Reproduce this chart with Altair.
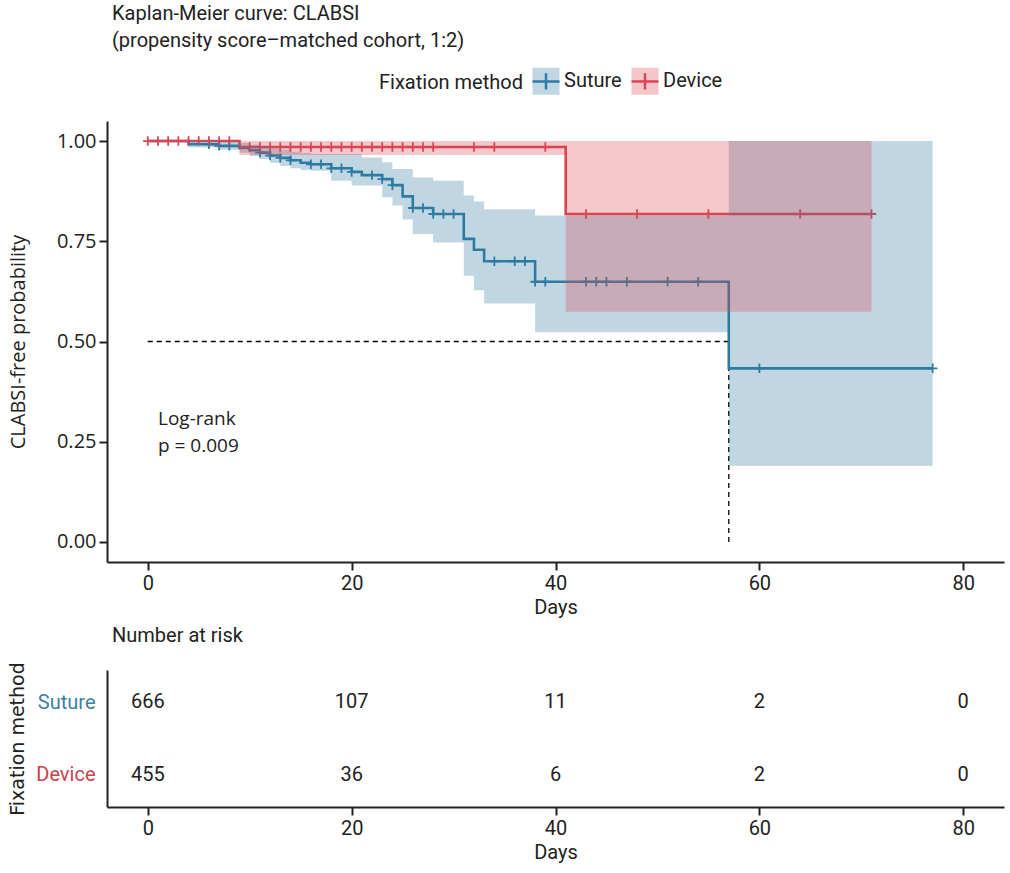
import altair as alt
import pandas as pd

# ---------------- data ----------------
groups = ["Suture", "Device"]
line_colors = ["#2E7CA3", "#DC4653"]

# Suture: Kaplan-Meier step function with 95% CI
sut_time = [0, 4, 7, 9, 10, 11, 12, 13, 14, 15, 16, 18, 20, 21, 23, 24, 25, 26, 28, 31, 32, 33, 38, 57]
sut_surv = [1.000, 0.992, 0.988, 0.983, 0.977, 0.971, 0.964, 0.958, 0.952, 0.946, 0.942, 0.932,
            0.923, 0.915, 0.905, 0.890, 0.862, 0.833, 0.818, 0.756, 0.729, 0.700, 0.649, 0.433]
sut_lower = [1.000, 0.984, 0.978, 0.971, 0.963, 0.955, 0.946, 0.938, 0.932, 0.928, 0.926, 0.901,
             0.889, 0.889, 0.860, 0.839, 0.804, 0.768, 0.747, 0.664, 0.628, 0.595, 0.523, 0.190]
sut_upper = [1.000, 1.000, 0.998, 0.995, 0.991, 0.987, 0.982, 0.978, 0.973, 0.970, 0.968, 0.968,
             0.968, 0.959, 0.947, 0.930, 0.930, 0.909, 0.901, 0.864, 0.849, 0.830, 0.814, 1.000]
sut_end = 77
sut_censor = [6, 7, 8, 11, 12, 13, 14, 16, 17, 18, 19, 20, 22, 23, 24, 26, 27, 28, 29, 30,
              34, 36, 37, 38, 39, 43, 44, 45, 47, 51, 54, 60, 77]

# Device
dev_time = [0, 9, 41]
dev_surv = [1.000, 0.985, 0.818]
dev_lower = [1.000, 0.965, 0.574]
dev_upper = [1.000, 1.000, 1.000]
dev_end = 71
dev_censor = [0, 1, 2, 3, 4, 5, 6, 7, 8, 10, 11, 12, 13, 14, 15, 16, 17, 18, 19, 20, 21, 22,
              23, 24, 25, 26, 27, 28, 32, 34, 39, 43, 48, 55, 64, 71]

# median survival (Suture)
median_time = 57
median_surv = 0.5

# log-rank annotation
logrank_lines = ["Log-rank", "p = 0.009"]
logrank_x = 1
logrank_y = [0.307, 0.239]

# number at risk table
risk_times = [0, 20, 40, 60, 80]
risk_suture = [666, 107, 11, 2, 0]
risk_device = [455, 36, 6, 2, 0]

# ---------------- build tables ----------------
def step_value(times, vals, t):
    v = vals[0]
    for ti, vi in zip(times, vals):
        if ti <= t:
            v = vi
    return v

curve_rows, cens_rows = [], []
series = [
    ("Suture", sut_time, sut_surv, sut_lower, sut_upper, sut_end, sut_censor),
    ("Device", dev_time, dev_surv, dev_lower, dev_upper, dev_end, dev_censor),
]
for g, t, s, lo, hi, end, cens in series:
    for ti, si, li, ui in zip(t, s, lo, hi):
        curve_rows.append({"group": g, "band": g, "time": ti, "surv": si, "lower": li, "upper": ui})
    curve_rows.append({"group": g, "band": g, "time": end, "surv": s[-1], "lower": lo[-1], "upper": hi[-1]})
    for c in cens:
        cens_rows.append({"group": g, "time": c, "surv": step_value(t, s, c)})
curves = pd.DataFrame(curve_rows)
cens = pd.DataFrame(cens_rows)

median_df = pd.DataFrame([
    {"x": 0, "x2": median_time, "y": median_surv, "y2": median_surv},
    {"x": median_time, "x2": median_time, "y": 0, "y2": median_surv},
])
logrank_df = pd.DataFrame({"x": [logrank_x] * 2, "y": logrank_y, "label": logrank_lines})

risk_rows = []
for t, a, b in zip(risk_times, risk_suture, risk_device):
    risk_rows.append({"time": t, "row": 2, "n": a})
    risk_rows.append({"time": t, "row": 1, "n": b})
risk = pd.DataFrame(risk_rows)

# ---------------- styling ----------------
COND = "Liberation Sans Narrow, Roboto, sans-serif"
REG = "Open Sans, sans-serif"
INK = "#222222"

xdom = [-4, 84]
xscale = alt.Scale(domain=xdom, nice=False, zero=False)
yscale = alt.Scale(domain=[-0.05, 1.05], nice=False)

x_axis = alt.Axis(values=[0, 20, 40, 60, 80], title="Days", labelFont=COND, labelFontSize=20,
                  titleFont=COND, titleFontSize=20, labelPadding=3, titlePadding=4)
y_axis = alt.Axis(values=[0, 0.25, 0.5, 0.75, 1.0], format=".2f", title="CLABSI-free probability",
                  labelFont=REG, labelFontSize=20, titleFont=REG, titleFontSize=20,
                  labelPadding=3, titlePadding=28)

stroke_scale = alt.Scale(domain=groups, range=line_colors)
fill_scale = alt.Scale(range=line_colors)

LEG_X, LEG_Y = 272, -55
common_leg = dict(title="Fixation method", orient="none", legendX=LEG_X, legendY=LEG_Y,
                  direction="horizontal", titleOrient="left", symbolSize=729,
                  symbolStrokeWidth=2.5, labelFont=COND, labelFontSize=20, titleFont=COND,
                  titleFontSize=20, titleFontWeight="normal", labelOffset=3, columnPadding=4,
                  titlePadding=8, padding=0)
fill_legend = alt.Legend(symbolType="square", symbolOpacity=0.3, symbolStrokeColor="transparent",
                         labelColor=INK, titleColor=INK, **common_leg)
stroke_legend = alt.Legend(symbolType="M-1,0H1M0,-0.6V0.6", symbolFillColor="transparent",
                           labelColor="transparent", titleColor="transparent", **common_leg)

base = alt.Chart(curves)

median_layer = alt.Chart(median_df).mark_rule(color="black", strokeDash=[5, 4], strokeWidth=1.3).encode(
    x=alt.X("x:Q", scale=xscale, axis=x_axis), x2="x2:Q",
    y=alt.Y("y:Q", scale=yscale, axis=y_axis), y2="y2:Q")

lines = base.mark_line(interpolate="step-after", strokeWidth=2.6).encode(
    x=alt.X("time:Q", scale=xscale, axis=x_axis),
    y=alt.Y("surv:Q", scale=yscale, axis=y_axis),
    stroke=alt.Stroke("group:N", scale=stroke_scale, legend=stroke_legend),
    detail="group:N")

ticks = alt.Chart(cens).mark_point(shape="M-1,0H1M0,-1V1", size=90, strokeWidth=1.8,
                                   filled=False, opacity=1).encode(
    x=alt.X("time:Q", scale=xscale, axis=x_axis),
    y=alt.Y("surv:Q", scale=yscale, axis=y_axis),
    stroke=alt.Stroke("group:N", scale=stroke_scale, legend=stroke_legend))

def band(g):
    return base.transform_filter(alt.datum.band == g).mark_area(
        interpolate="step-after", opacity=0.3).encode(
        x=alt.X("time:Q", scale=xscale, axis=x_axis),
        y=alt.Y("lower:Q", scale=yscale, axis=y_axis),
        y2="upper:Q",
        fill=alt.Fill("band:N", scale=fill_scale, sort=groups, legend=fill_legend))

logrank = alt.Chart(logrank_df).mark_text(align="left", baseline="middle", font=REG,
                                          fontSize=19, color=INK).encode(
    x=alt.X("x:Q", scale=xscale, axis=x_axis),
    y=alt.Y("y:Q", scale=yscale, axis=y_axis),
    text="label:N")

main = alt.layer(median_layer, lines, ticks, band("Suture"), band("Device"), logrank).properties(
    width=897, height=441,
    title=alt.TitleParams(["Kaplan-Meier curve: CLABSI", "(propensity score–matched cohort, 1:2)"],
                          anchor="start", frame="group", font=COND, fontSize=20,
                          fontWeight="normal", color=INK, lineHeight=27, offset=15, dx=5))

# ---------------- risk table ----------------
row_axis = alt.Axis(values=[1, 2], labelExpr="datum.value == 2 ? 'Suture' : 'Device'",
                    labelColor={"condition": {"test": "datum.value == 2", "value": "#3E7FA3"},
                                "value": "#C9434E"},
                    labelFont=COND, labelFontSize=20, ticks=False, tickSize=0, labelPadding=12,
                    title="Fixation method", titleFont="DejaVu Sans", titleFontSize=19,
                    titlePadding=8, grid=False)

table = alt.Chart(risk).mark_text(font=COND, fontSize=20, color=INK, baseline="middle").encode(
    x=alt.X("time:Q", scale=xscale, axis=x_axis),
    y=alt.Y("row:Q", scale=alt.Scale(domain=[0.55, 2.45], nice=False, zero=False), axis=row_axis),
    text="n:Q").properties(
    width=897, height=137,
    title=alt.TitleParams("Number at risk", anchor="start", frame="group", font=COND, fontSize=20,
                          fontWeight="normal", color=INK, offset=16, dx=5))

chart = alt.vconcat(main, table, spacing=8).resolve_scale(
    x="independent", y="independent", fill="independent", stroke="independent"
).configure_view(stroke=None).configure_axis(
    grid=False, domainColor=INK, domainWidth=2, tickColor=INK, tickWidth=2, tickSize=8,
    labelColor=INK, titleColor=INK, titleFontWeight="normal"
).properties(padding={"left": 8, "top": 4, "right": 5, "bottom": 5}, background="white")

chart.save("out.html", embed_options={"renderer": "svg", "actions": False})
